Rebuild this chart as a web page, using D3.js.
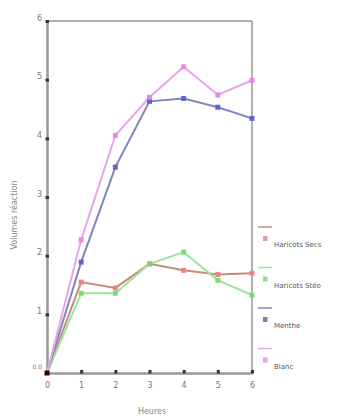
<!DOCTYPE html>
<html><head><meta charset="utf-8">
<script src="https://cdn.jsdelivr.net/npm/d3@7"></script>
<style>body{margin:0;background:#fff}svg{display:block}</style>
</head><body><svg id="c" width="339" height="419"></svg>
<script>
const hours = [0,1,2,3,4,5,6];
const yTicks = [0,1,2,3,4,5,6];
const yTickLabels = ["0.0","1","2","3","4","5","6"];
const seriesNames = ["Haricots Secs","Haricots Stéo","Menthe","Blanc"];
const redVals   = [0,1.55,1.45,1.86,1.75,1.68,1.70];
const greenVals = [0,1.36,1.36,1.86,2.06,1.58,1.33];
const blueVals  = [0,1.89,3.51,4.63,4.68,4.53,4.34];
const pinkVals  = [0,2.27,4.05,4.70,5.22,4.74,4.99];
const yTitle = "Volumes réaction";
const xTitle = "Heures";

const lineColors = ["#c98a7e","#9ee49e","#8484bc","#e6a6e6"];
const markColors = ["#e88080","#70dc70","#5a5ac8","#e880e8"];
const allVals = [redVals,greenVals,blueVals,pinkVals];

const svg = d3.select("#c");
const x = d3.scaleLinear().domain([0,6]).range([47,252]);
const y = d3.scaleLinear().domain([0,6]).range([373,21]);

// frame
svg.append("line").attr("x1",x(0)).attr("x2",x(6)).attr("y1",y(6)).attr("y2",y(6)).attr("stroke","#999").attr("stroke-width",1.5);
svg.append("line").attr("x1",x(6)).attr("x2",x(6)).attr("y1",y(6)).attr("y2",y(0)).attr("stroke","#999").attr("stroke-width",1.5);

const gy = svg.append("g").attr("transform",`translate(${x(0)},0)`)
  .call(d3.axisLeft(y).tickValues(yTicks).tickFormat((d,i)=>yTickLabels[i]).tickSize(0).tickPadding(5));
const gx = svg.append("g").attr("transform",`translate(0,${y(0)})`)
  .call(d3.axisBottom(x).tickValues(hours).tickFormat(d3.format("d")).tickSize(0).tickPadding(9));
[gx,gy].forEach(g=>{
  g.select(".domain").attr("stroke","#999").attr("stroke-width",2.5);
  g.selectAll("text").attr("font-family","DejaVu Sans").attr("font-size",8).attr("fill","#777");
});
gy.selectAll(".tick text").attr("dy","-0.1em");
gy.selectAll(".tick").filter(d=>d===0).select("text").attr("dy","-0.8em").attr("font-size",6);
// dark tick marks
gy.selectAll(".tick").append("rect").attr("x",-1.5).attr("y",-1.5).attr("width",3.5).attr("height",3).attr("fill","#333");
gx.selectAll(".tick").append("rect").attr("x",-1.5).attr("y",-3).attr("width",3).attr("height",3.5).attr("fill","#333");

const line = d3.line().x((d,i)=>x(hours[i])).y(d=>y(d));
allVals.forEach((vals,k)=>{
  svg.append("path").attr("d",line(vals)).attr("fill","none").attr("stroke",lineColors[k]).attr("stroke-width",2);
});
allVals.forEach((vals,k)=>{
  svg.append("g").selectAll("rect").data(vals.slice(1)).join("rect")
    .attr("x",(d,i)=>x(hours[i+1])-2.5).attr("y",d=>y(d)-2.5).attr("width",5).attr("height",5)
    .attr("fill",markColors[k]).attr("opacity",0.9);
});
svg.append("rect").attr("x",x(0)-2.5).attr("y",y(0)-2.5).attr("width",5).attr("height",5).attr("fill","#300");

// legend
const lg = svg.append("g");
seriesNames.forEach((n,k)=>{
  const yy = 245 + k*40.5;
  lg.append("line").attr("x1",258).attr("x2",272).attr("y1",yy-18).attr("y2",yy-18).attr("stroke",lineColors[k]).attr("stroke-width",1.5);
  lg.append("rect").attr("x",263).attr("y",yy-9).attr("width",4.5).attr("height",5).attr("fill",markColors[k]).attr("opacity",0.8);
  lg.append("text").attr("x",274).attr("y",yy+2).text(n)
    .attr("font-family","DejaVu Sans").attr("font-size",7).attr("fill","#555");
});

svg.append("text").attr("transform","translate(17,215) rotate(-90)").attr("text-anchor","middle")
  .attr("font-family","DejaVu Sans").attr("font-size",8).attr("fill","#888").text(yTitle);
svg.append("text").attr("x",152).attr("y",414).attr("text-anchor","middle")
  .attr("font-family","DejaVu Sans").attr("font-size",8).attr("fill","#888").text(xTitle);
</script></body></html>
